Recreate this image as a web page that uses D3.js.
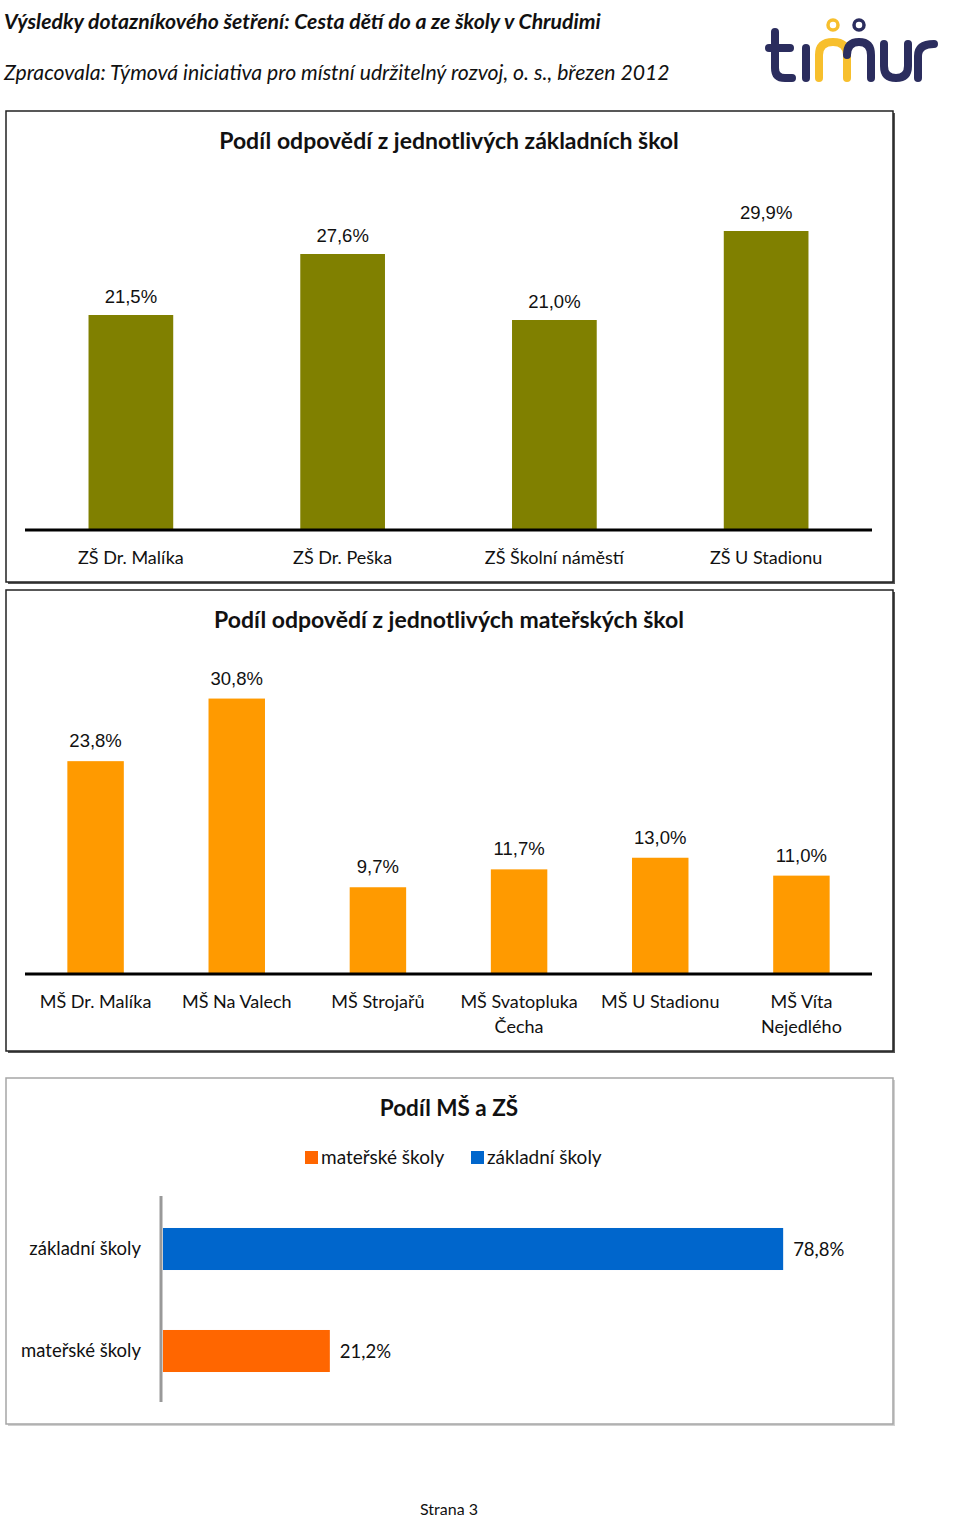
<!DOCTYPE html>
<html><head><meta charset="utf-8">
<script src="https://cdn.jsdelivr.net/npm/d3@7"></script>
<style>body{margin:0;background:#fff}svg{display:block}</style>
</head><body>
<script>
const zsCategories = ["ZŠ Dr. Malíka", "ZŠ Dr. Peška", "ZŠ Školní náměstí", "ZŠ U Stadionu"];
const zsValues = [21.5, 27.6, 21.0, 29.9];
const msCategories = ["MŠ Dr. Malíka", "MŠ Na Valech", "MŠ Strojařů", "MŠ Svatopluka|Čecha", "MŠ U Stadionu", "MŠ Víta|Nejedlého"];
const msValues = [23.8, 30.8, 9.7, 11.7, 13.0, 11.0];
const shareCategories = ["základní školy", "mateřské školy"];
const shareValues = [78.8, 21.2];
const legendLabels = ["mateřské školy", "základní školy"];

const W = 960, H = 1519;
const CAL = "Lato, 'Open Sans', sans-serif";
const ARI = "'Liberation Sans', Arial, sans-serif";
const fmt = v => d3.format(".1f")(v).replace(".", ",") + "%";

const svg = d3.select("body").append("svg").attr("width", W).attr("height", H);

// Header
svg.append("text").attr("x", 4).attr("y", 29).attr("font-family", CAL).attr("font-size", 21.2)
  .attr("font-weight", "bold").attr("font-style", "italic").attr("fill", "#111")
  .text("Výsledky dotazníkového šetření: Cesta dětí do a ze školy v Chrudimi");
svg.append("text").attr("x", 4).attr("y", 80).attr("font-family", CAL).attr("font-size", 21.2)
  .attr("font-style", "italic").attr("fill", "#111")
  .text("Zpracovala: Týmová iniciativa pro místní udržitelný rozvoj, o. s., březen 2012");

// Logo
const logo = svg.append("g").attr("fill", "none").attr("stroke-width", 8).attr("stroke-linecap", "round");
const navy = "#2b2d5e", yel = "#f7bf2d";
logo.append("path").attr("stroke", navy).attr("d", "M775,32 V68 Q775,78 785,78 H792");
logo.append("path").attr("stroke", navy).attr("d", "M769,48 H790");
logo.append("path").attr("stroke", navy).attr("d", "M806,48 V78");
logo.append("path").attr("stroke", yel).attr("d", "M819,78 V55 Q819,42 833,42 Q847,42 847,55 V78");
logo.append("circle").attr("stroke", yel).attr("stroke-width", 3.5).attr("cx", 833).attr("cy", 25).attr("r", 5);
logo.append("path").attr("stroke", navy).attr("d", "M847,55 Q847,42 859,42 Q871,42 871,55 V78");
logo.append("circle").attr("stroke", navy).attr("stroke-width", 3.5).attr("cx", 859).attr("cy", 25).attr("r", 5);
logo.append("path").attr("stroke", navy).attr("d", "M884,44 V66 Q884,78 896,78 Q908,78 908,66 V44");
logo.append("path").attr("stroke", navy).attr("d", "M918,78 V56 Q918,44 934,44");

function box(x, y, w, h, col, shadow) {
  svg.append("rect").attr("x", x + 2).attr("y", y + 2).attr("width", w).attr("height", h).attr("fill", shadow);
  svg.append("rect").attr("x", x).attr("y", y).attr("width", w).attr("height", h)
    .attr("fill", "#fff").attr("stroke", col).attr("stroke-width", 1.5);
}

// ---------- Chart 1 ----------
box(6, 111, 887, 471, "#222", "#555");
svg.append("text").attr("x", 449).attr("y", 149).attr("text-anchor", "middle").attr("font-family", CAL)
  .attr("font-size", 23).attr("font-weight", "bold").attr("fill", "#111")
  .text("Podíl odpovědí z jednotlivých základních škol");
const x1 = d3.scaleBand().domain(zsCategories).range([25, 872]).paddingInner(0.6).paddingOuter(0.3);
const y1 = d3.scaleLinear().domain([0, 35]).range([530, 180]);
const g1 = svg.append("g");
g1.selectAll("rect").data(zsValues).join("rect")
  .attr("x", (d, i) => x1(zsCategories[i])).attr("width", x1.bandwidth())
  .attr("y", d => y1(d)).attr("height", d => y1(0) - y1(d)).attr("fill", "#808000");
g1.selectAll("text.v").data(zsValues).join("text").attr("class", "v")
  .attr("x", (d, i) => x1(zsCategories[i]) + x1.bandwidth() / 2).attr("y", d => y1(d) - 12)
  .attr("text-anchor", "middle").attr("font-family", ARI).attr("font-size", 18.5).attr("fill", "#111").text(fmt);
const ax1 = svg.append("g").attr("transform", "translate(0,530)")
  .call(d3.axisBottom(x1).tickSize(0).tickPadding(0));
ax1.select(".domain").attr("stroke", "#000").attr("stroke-width", 3).attr("d", "M25,0H872");
ax1.selectAll(".tick text").attr("font-family", CAL).attr("font-size", 18).attr("fill", "#111").attr("dy", 34);

// ---------- Chart 2 ----------
box(6, 590, 887, 461, "#222", "#555");
svg.append("text").attr("x", 449).attr("y", 628).attr("text-anchor", "middle").attr("font-family", CAL)
  .attr("font-size", 23).attr("font-weight", "bold").attr("fill", "#111")
  .text("Podíl odpovědí z jednotlivých mateřských škol");
const x2 = d3.scaleBand().domain(msCategories).range([25, 872]).paddingInner(0.6).paddingOuter(0.3);
const y2 = d3.scaleLinear().domain([0, 35]).range([974, 974 - 313]);
const g2 = svg.append("g");
g2.selectAll("rect").data(msValues).join("rect")
  .attr("x", (d, i) => x2(msCategories[i])).attr("width", x2.bandwidth())
  .attr("y", d => y2(d)).attr("height", d => y2(0) - y2(d)).attr("fill", "#ff9a00");
g2.selectAll("text.v").data(msValues).join("text").attr("class", "v")
  .attr("x", (d, i) => x2(msCategories[i]) + x2.bandwidth() / 2).attr("y", d => y2(d) - 14)
  .attr("text-anchor", "middle").attr("font-family", ARI).attr("font-size", 18.5).attr("fill", "#111").text(fmt);
const ax2 = svg.append("g").attr("transform", "translate(0,974)")
  .call(d3.axisBottom(x2).tickSize(0).tickPadding(0).tickFormat(() => ""));
ax2.select(".domain").attr("stroke", "#000").attr("stroke-width", 3).attr("d", "M25,0H872");
ax2.selectAll(".tick text").each(function(d) {
  const t = d3.select(this).attr("font-family", CAL).attr("font-size", 18).attr("fill", "#111").attr("dy", null).attr("y", 0);
  d.split("|").forEach((s, i) => t.append("tspan").attr("x", 0).attr("y", 34 + i * 25).text(s));
});

// ---------- Chart 3 ----------
box(6, 1078, 887, 346, "#a6a6a6", "#d0d0d0");
svg.append("text").attr("x", 449).attr("y", 1116).attr("text-anchor", "middle").attr("font-family", CAL)
  .attr("font-size", 22.5).attr("font-weight", "bold").attr("fill", "#111").text("Podíl MŠ a ZŠ");
const legColors = {"mateřské školy": "#ff6600", "základní školy": "#0066cc"};
const legX = [305, 471];
legendLabels.forEach((l, i) => {
  svg.append("rect").attr("x", legX[i]).attr("y", 1151).attr("width", 13).attr("height", 13).attr("fill", legColors[l]);
  svg.append("text").attr("x", legX[i] + 16).attr("y", 1164).attr("font-family", CAL).attr("font-size", 19)
    .attr("fill", "#111").text(l);
});
const y3 = d3.scaleBand().domain(shareCategories).range([1198, 1402]).paddingInner(0.588).paddingOuter(0.294);
const x3 = d3.scaleLinear().domain([0, 100]).range([163, 950]);
const g3 = svg.append("g");
g3.selectAll("rect").data(shareValues).join("rect")
  .attr("x", x3(0)).attr("y", (d, i) => y3(shareCategories[i])).attr("height", y3.bandwidth())
  .attr("width", d => x3(d) - x3(0)).attr("fill", (d, i) => legColors[shareCategories[i]]);
g3.selectAll("text.v").data(shareValues).join("text").attr("class", "v")
  .attr("x", d => x3(d) + 10).attr("y", (d, i) => y3(shareCategories[i]) + y3.bandwidth() / 2 + 7)
  .attr("font-family", CAL).attr("font-size", 18.5).attr("fill", "#111").text(fmt);
const ax3 = svg.append("g").attr("transform", "translate(161,0)")
  .call(d3.axisLeft(y3).tickSize(0).tickPadding(20));
ax3.select(".domain").attr("stroke", "#999").attr("stroke-width", 3).attr("d", "M0,1196V1402");
ax3.selectAll(".tick text").attr("font-family", CAL).attr("font-size", 18.5).attr("fill", "#111");

// Footer
svg.append("text").attr("x", 449).attr("y", 1515).attr("text-anchor", "middle").attr("font-family", CAL)
  .attr("font-size", 16).attr("fill", "#111").text("Strana 3");
</script>
</body></html>
